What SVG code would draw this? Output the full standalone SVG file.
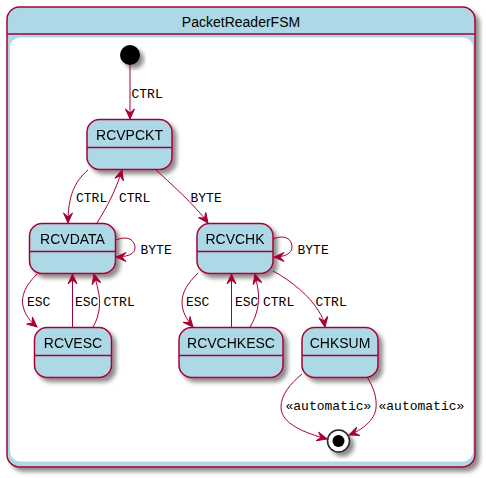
<svg xmlns="http://www.w3.org/2000/svg" width="486" height="478" viewBox="0 0 486 478">
<defs>
<filter id="sh" x="-20%" y="-20%" width="150%" height="150%">
<feGaussianBlur in="SourceAlpha" stdDeviation="2"/>
<feOffset dx="4" dy="4" result="b"/>
<feColorMatrix in="b" type="matrix" values="0 0 0 0 0  0 0 0 0 0  0 0 0 0 0  0 0 0 0.45 0" result="c"/>
<feMerge><feMergeNode in="c"/><feMergeNode in="SourceGraphic"/></feMerge>
</filter>
<marker id="ah" markerUnits="userSpaceOnUse" markerWidth="14" markerHeight="12" viewBox="-11 -6 12 12" refX="0" refY="0" orient="auto">
<path d="M0,0 L-10,-4.5 L-6,0 L-10,4.5 Z" fill="#A80036" stroke="#A80036" stroke-width="1"/>
</marker>
</defs>
<style>
.st{fill:#ADD8E6;stroke:#A80036;stroke-width:1.5}
.dv{stroke:#A80036;stroke-width:1.5}
.nm{font-family:"Liberation Sans",Arial,sans-serif;font-size:14px;fill:#000;text-anchor:middle}
.lb{font-family:"Liberation Mono","Courier New",monospace;font-size:13px;fill:#000}
.cn path{fill:none;stroke:#A80036;stroke-width:1;marker-end:url(#ah)}
</style>
<g id="PacketReaderFSM">
<rect x="7" y="7" width="468" height="460" rx="12.5" class="st" filter="url(#sh)"/>
<line x1="7" y1="34" x2="475" y2="34" class="dv"/>
<rect x="10" y="37.5" width="463" height="424" rx="10" fill="#FFFFFF"/>
<text x="241" y="26.5" class="nm">PacketReaderFSM</text>
</g>
<g id="start">
<circle cx="130" cy="55" r="10" fill="#000" filter="url(#sh)"/>
</g>
<g id="RCVPCKT" filter="url(#sh)">
<rect x="87" y="119.5" width="85" height="50" rx="12.5" class="st"/>
<line x1="87" y1="147.5" x2="172" y2="147.5" class="dv"/>
<text x="129.5" y="139.5" class="nm">RCVPCKT</text>
</g>
<g id="RCVDATA" filter="url(#sh)">
<rect x="29.5" y="223.5" width="86" height="50" rx="12.5" class="st"/>
<line x1="29.5" y1="251.5" x2="115.5" y2="251.5" class="dv"/>
<text x="72.5" y="243.5" class="nm">RCVDATA</text>
</g>
<g id="RCVCHK" filter="url(#sh)">
<rect x="197" y="223.5" width="76" height="50" rx="12.5" class="st"/>
<line x1="197" y1="251.5" x2="273" y2="251.5" class="dv"/>
<text x="235" y="243.5" class="nm">RCVCHK</text>
</g>
<g id="RCVESC" filter="url(#sh)">
<rect x="34.5" y="327.5" width="77" height="50" rx="12.5" class="st"/>
<line x1="34.5" y1="355.5" x2="111.5" y2="355.5" class="dv"/>
<text x="73" y="347.5" class="nm">RCVESC</text>
</g>
<g id="RCVCHKESC" filter="url(#sh)">
<rect x="179" y="327.5" width="104" height="50" rx="12.5" class="st"/>
<line x1="179" y1="355.5" x2="283" y2="355.5" class="dv"/>
<text x="231" y="347.5" class="nm">RCVCHKESC</text>
</g>
<g id="CHKSUM" filter="url(#sh)">
<rect x="302" y="327.5" width="76" height="50" rx="12.5" class="st"/>
<line x1="302" y1="355.5" x2="378" y2="355.5" class="dv"/>
<text x="340" y="347.5" class="nm">CHKSUM</text>
</g>
<g id="end" filter="url(#sh)">
<circle cx="338.5" cy="441" r="11" fill="#FFFFFF" stroke="#222" stroke-width="1.5"/>
<circle cx="338.5" cy="441" r="6" fill="#000"/>
</g>
<g id="connectors" class="cn">
<path d="M130,65 L130,119"/>
<path d="M88,170 C74,182 68,197 68,223"/>
<path d="M97,223 C107,207 116,190 122,170"/>
<path d="M155,169 C170,183 195,205 208,223"/>
<path d="M116,240 C128,235 135,240 135,248 C135,254 127,257 116,257"/>
<path d="M273,239 C285,234 292,239 292,247 C292,254 284,257 274,257"/>
<path d="M37,274 C25,286 21,296 23,306 C25,315 30,321 37,327"/>
<path d="M72.5,327 L72.5,274"/>
<path d="M93,327 C100,316 101,300 98,290 C97,284 95,278 94,274"/>
<path d="M198,273 C188,283 182,292 182,302 C182,312 187,320 193,327"/>
<path d="M231.5,327 L231.5,274"/>
<path d="M250,327 C257,316 260,302 258,290 C257,284 256,278 255,274"/>
<path d="M273,271 C292,281 310,297 318,310 C322,316 324,321 325,327"/>
<path d="M302,374 C290,384 281,395 281,407 C281,424 305,433 327,439"/>
<path d="M367,377 C374,388 377,398 376,408 C375,420 362,430 349,435"/>
</g>
<g id="labels">
<text x="131.5" y="97.5" class="lb">CTRL</text>
<text x="76" y="201.5" class="lb">CTRL</text>
<text x="119" y="201.5" class="lb">CTRL</text>
<text x="190.5" y="201.5" class="lb">BYTE</text>
<text x="140.5" y="253.5" class="lb">BYTE</text>
<text x="297.5" y="253.5" class="lb">BYTE</text>
<text x="27" y="305.5" class="lb">ESC</text>
<text x="75" y="305.5" class="lb">ESC</text>
<text x="103.5" y="305.5" class="lb">CTRL</text>
<text x="186" y="305.5" class="lb">ESC</text>
<text x="235" y="305.5" class="lb">ESC</text>
<text x="263" y="305.5" class="lb">CTRL</text>
<text x="315.5" y="305.5" class="lb">CTRL</text>
<text x="285.5" y="409.5" class="lb">«automatic»</text>
<text x="378.5" y="409.5" class="lb">«automatic»</text>
</g>
</svg>
